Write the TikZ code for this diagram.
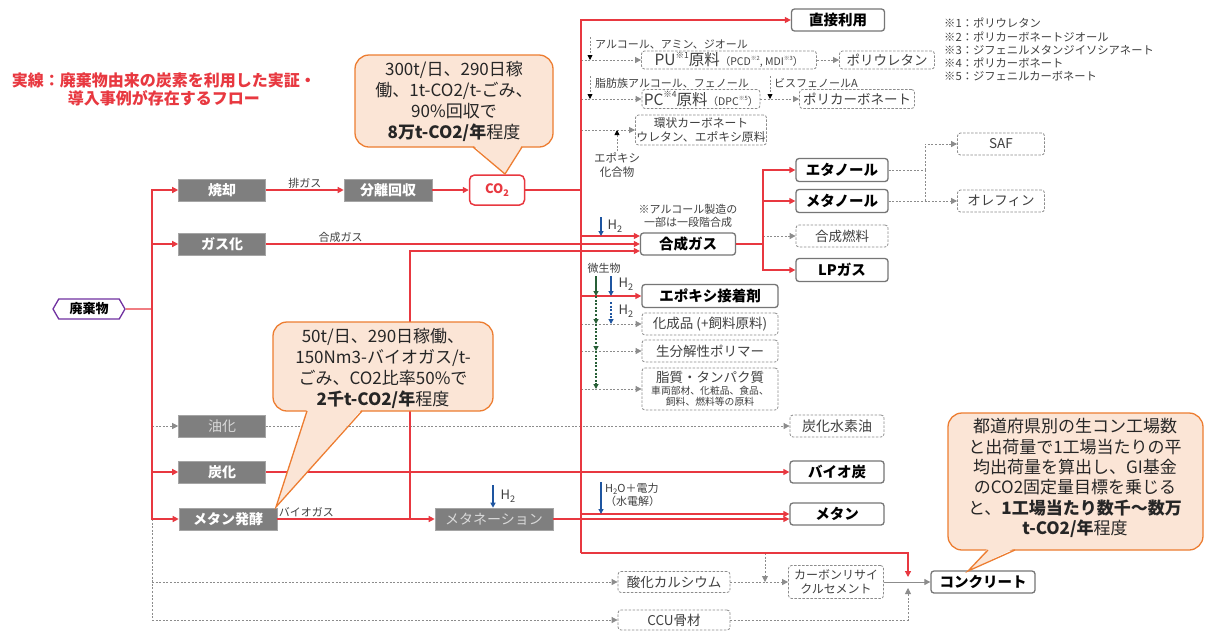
\documentclass[tikz,border=0pt]{standalone}
\usepackage{fontspec}
\setmainfont{Noto Sans CJK JP}
\usetikzlibrary{arrows.meta,shapes.symbols}
\definecolor{rl}{RGB}{232,56,64}
\definecolor{gbox}{RGB}{127,127,127}
\definecolor{dg}{RGB}{64,64,64}
\definecolor{lg}{RGB}{140,140,140}
\definecolor{bd}{RGB}{118,118,118}
\definecolor{orng}{RGB}{237,125,49}
\definecolor{peach}{RGB}{251,229,214}
\definecolor{purp}{RGB}{112,48,160}
\definecolor{blu}{RGB}{30,85,160}
\definecolor{grn}{RGB}{40,95,55}
\newcommand{\fs}[1]{\fontsize{#1}{#1}\selectfont}
\newcommand{\mysup}[1]{\raisebox{.85ex}{\scalebox{.55}{#1}}}
\newcommand{\mysub}[1]{\raisebox{-.35ex}{\scalebox{.7}{#1}}}
\tikzset{
  arw/.style={-{Triangle[length=6pt,width=6pt]}},
  redl/.style={draw=rl,line width=1.3pt},
  redar/.style={redl,arw},
  dsh/.style={draw=lg,line width=0.8pt,dash pattern=on 2pt off 1.6pt},
  dshar/.style={dsh,arw},
  gsolar/.style={draw=lg,line width=0.9pt,arw},
  blkar/.style={dsh,-{Triangle[length=5pt,width=5pt,color=black]}},
  bluar/.style={draw=blu,line width=1.2pt,-{Triangle[length=5pt,width=5pt]}},
  bluedar/.style={bluar,dash pattern=on 2pt off 1.6pt},
  grar/.style={draw=grn,line width=1.2pt,-{Triangle[length=5pt,width=5pt]}},
  grdar/.style={grar,dash pattern=on 2pt off 1.6pt},
  gbx/.style={fill=gbox,draw=gbox!70!white,line width=0.6pt,text=white,font=\fs{14}\bfseries,minimum height=22pt,inner sep=1pt},
  gbxl/.style={gbx,text=black!15,font=\fs{14}},
  sbx/.style={draw=bd,line width=1.3pt,rounded corners=3pt,fill=white,font=\fs{14.5}\bfseries,minimum height=22pt,inner sep=1pt},
  dbx/.style={draw=lg,line width=0.8pt,dash pattern=on 2.5pt off 1.5pt,rounded corners=3pt,fill=white,text=dg,font=\fs{13.5},minimum height=21pt,inner sep=1pt},
  lbl/.style={text=dg,font=\fs{11},inner sep=1pt},
  sig/.style={signal,signal to=east and west,signal pointer angle=120,draw=purp,line width=1.3pt,fill=white,font=\fs{13}\bfseries,minimum width=72pt,minimum height=20pt,inner sep=1pt},
  cot/.style={align=center,text=black!85,inner sep=0pt},
}
\begin{document}
\begin{tikzpicture}[x=1pt,y=-1pt]
\fill[white] (0,0) rectangle (1205,630);
\useasboundingbox (0,0) rectangle (1205,630);

% legend and footnotes
\node[align=center,text=rl,font=\fontsize{16}{18}\selectfont\bfseries] (legend) at (164,89) {実線：廃棄物由来の炭素を利用した実証・\\導入事例が存在するフロー};
\node[anchor=north west,align=left,text=dg,font=\fontsize{11.3}{13.3}\selectfont,inner sep=0pt] (fn) at (944,18) {※1：ポリウレタン\\※2：ポリカーボネートジオール\\※3：ジフェニルメタンジイソシアネート\\※4：ポリカーボネート\\※5：ジフェニルカーボネート};

% left column
\node[sig] (haiki) at (89,309) {廃棄物};
\node[gbx,minimum width=87pt] (shoukyaku) at (222,190) {焼却};
\node[gbx,minimum width=87pt] (gasuka) at (222,244) {ガス化};
\node[gbxl,minimum width=87pt] (yuka) at (222,426) {油化};
\node[gbx,minimum width=87pt] (tanka) at (222,472) {炭化};
\node[gbx,minimum width=98pt] (hakkou) at (228,519) {メタン発酵};
\node[gbx,minimum width=88pt] (bunri) at (388,190) {分離回収};
\node[draw=rl,line width=1.5pt,rounded corners=5pt,fill=white,text=rl,font=\fs{13}\bfseries,minimum width=55pt,minimum height=30pt,inner sep=1pt] (co2) at (497,190) {CO\mysub{2}};
\node[gbxl,minimum width=118pt] (metanation) at (494,519) {メタネーション};

% right part
\node[sbx,minimum width=93pt] (chokusetsu) at (838,20) {直接利用};
\node[dbx,minimum width=175pt,minimum height=18pt] (pu) at (729,60) {{\fs{15.5}PU\mysup{※1}原料}{\fs{10.5}（PCD\mysup{※2}, MDI\mysup{※3}）}};
\node[dbx,minimum width=95pt,minimum height=18pt] (pur) at (887,60) {ポリウレタン};
\node[dbx,minimum width=118pt,minimum height=19pt] (pc) at (701,99) {{\fs{15.5}PC\mysup{※4}原料}{\fs{10.5}（DPC\mysup{※5}）}};
\node[dbx,minimum width=115pt,minimum height=19pt] (pcb) at (857,99) {ポリカーボネート};
\node[dbx,minimum width=122pt,minimum height=30pt,align=center,font=\fontsize{11.8}{13.5}\selectfont] (kanjou) at (701,130) {環状カーボネート\\ウレタン、エポキシ原料};
\node[sbx,minimum width=95pt] (gg) at (688,244) {合成ガス};
\node[sbx,minimum width=92pt,minimum height=23pt] (etanol) at (842,170) {エタノール};
\node[sbx,minimum width=92pt,minimum height=23pt] (metanol) at (842,201) {メタノール};
\node[dbx,minimum width=92pt,minimum height=22pt] (gnen) at (842,236) {合成燃料};
\node[sbx,minimum width=92pt,minimum height=23pt] (lpg) at (842,270) {LPガス};
\node[dbx,minimum width=87pt,minimum height=22pt] (saf) at (1001,144) {SAF};
\node[dbx,minimum width=87pt,minimum height=22pt] (olefin) at (1001,201) {オレフィン};
\node[sbx,minimum width=136pt,minimum height=23pt] (epx) at (710,296) {エポキシ接着剤};
\node[dbx,minimum width=136pt,minimum height=22pt] (kasei) at (710,324) {化成品 (+飼料原料)};
\node[dbx,minimum width=136pt,minimum height=22pt] (seibun) at (710,351) {生分解性ポリマー};
\node[dbx,minimum width=136pt,minimum height=42pt,align=center,font=\fontsize{9.8}{11.5}\selectfont] (shishitsu) at (710,389) {{\fs{13.5}脂質・タンパク質}\\車両部材、化粧品、食品、\\飼料、燃料等の原料};
\node[dbx,minimum width=94pt,minimum height=22pt,font=\fs{14}] (tsuiso) at (837,426) {炭化水素油};
\node[sbx,minimum width=94pt] (biochar) at (837,472) {バイオ炭};
\node[sbx,minimum width=94pt] (metan) at (837,514) {メタン};
\node[dbx,minimum width=112pt,minimum height=21pt] (sanka) at (674,582) {酸化カルシウム};
\node[dbx,minimum width=95pt,minimum height=33pt,align=center,font=\fontsize{12}{14}\selectfont] (cement) at (836,582) {カーボンリサイ\\クルセメント};
\node[sbx,minimum width=104pt] (concrete) at (983,582) {コンクリート};
\node[dbx,minimum width=112pt,minimum height=20pt] (ccu) at (674,620) {CCU骨材};

% bus coordinates
\coordinate (L) at (152,309);
\coordinate (B) at (581,190);
\coordinate (Bb) at (581,553);
\coordinate (V) at (410,519);
\coordinate (S) at (763,244);
\coordinate (E) at (925,170);
\coordinate (K) at (908,582);
\coordinate (C) at (765,553);
\coordinate (g1) at ([yshift=8pt]gg.west);
\coordinate (g3) at ([yshift=-7pt]gg.west);
\coordinate (m2) at (metan.west |- metanation);

% gray dashed flows
\draw[dshar] (L |- yuka) -- (yuka);
\draw[dsh] (L |- hakkou) -- (L |- ccu);
\draw[dshar] (L |- sanka) -- (sanka);
\draw[dshar] (L |- ccu) -- (ccu);
\draw[dshar] (yuka) -- (tsuiso);
\draw[dshar] (B |- pu) -- (pu);
\draw[dshar] (pu) -- (pur);
\draw[dshar] (B |- pc) -- (pc);
\draw[dshar] (pc) -- (pcb);
\draw[dshar] (B |- kanjou) -- (kanjou);
\draw[dshar] (S |- gnen) -- (gnen);
\draw[dsh] (etanol) -- (E);
\draw[dshar] (E) |- (saf);
\draw[dsh] (E) -- (E |- metanol);
\draw[dshar] (metanol) -- (olefin);
\draw[dshar] (B |- kasei) -- (kasei);
\draw[dshar] (B |- seibun) -- (seibun);
\draw[dshar] (B |- shishitsu) -- (shishitsu);
\draw[dshar] (sanka) -- (cement);
\draw[dshar] (C) -- (C |- sanka);
\draw[gsolar] (cement) -- (concrete);
\draw[dshar] (ccu) -| ([yshift=-6pt]K);

% red flows
\draw[redl] (haiki) -- (L);
\draw[redar] (L) |- (shoukyaku);
\draw[redar] (L) |- (gasuka);
\draw[redar] (L) |- (tanka);
\draw[redar] (L) |- (hakkou);
\draw[redar] (shoukyaku) -- node[lbl,above]{排ガス} (bunri);
\draw[redar] (bunri) -- (co2);
\draw[redl] (co2) -- (B);
\draw[redar] (Bb) |- (chokusetsu);
\draw[redar] (B |- g1) -- (g1);
\draw[redar] (gasuka) -- node[lbl,above,pos=0.2]{合成ガス} (gg);
\draw[redar] (hakkou) -- node[lbl,above right,pos=0]{バイオガス} (metanation);
\draw[redar] (V) |- (g3);
\draw[redl] (gg) -- (S);
\draw[redar] (S) |- (etanol);
\draw[redar] (S) |- (metanol);
\draw[redar] (S) |- (lpg);
\draw[redar] (B |- epx) -- (epx);
\draw[redar] (tanka) -- (biochar);
\draw[redar] (B |- metan) -- (metan);
\draw[redar] (metanation) -- (m2);
\draw[redar] (Bb) -| ([yshift=5pt]K);

% side labels and small arrows
\node[lbl,anchor=west] (alc) at (594,44) {アルコール、アミン、ジオール};
\coordinate (a1) at (590,37);
\draw[blkar] (a1) -- (a1 |- pu);
\node[lbl,anchor=west] (fat) at (594,83) {脂肪族アルコール、フェノール};
\coordinate (a2) at (590,76);
\draw[blkar] (a2) -- (a2 |- pc);
\node[lbl,anchor=west] (bis) at (773,83) {ビスフェノールA};
\coordinate (a3) at (770,76);
\draw[blkar] (a3) -- (a3 |- pc);
\node[lbl,align=center,font=\fontsize{11.5}{14}\selectfont] (epc) at (617,165) {エポキシ\\化合物};
\draw[dsh,-{Triangle[length=5pt,width=5pt,color=black]}] (epc.north) -- (epc.north |- kanjou);
\node[lbl,align=center,font=\fontsize{11}{13}\selectfont] (note) at (688,216) {※アルコール製造の\\一部は一段階合成};
\coordinate (h1) at (601,217);
\draw[bluar] (h1) -- (h1 |- g1);
\node[lbl,font=\fs{13}] (h1l) at (615,226) {H\mysub{2}};
\node[lbl] (bio) at (604,268) {微生物};
\coordinate (gr) at (596,276);
\draw[grar] (gr) -- (gr |- epx);
\draw[grdar] (gr |- epx) -- (gr |- kasei);
\draw[grdar] (gr |- kasei) -- (gr |- seibun);
\draw[grdar] (gr |- seibun) -- (gr |- shishitsu);
\coordinate (bl) at (611,276);
\draw[bluar] (bl) -- (bl |- epx);
\node[lbl,font=\fs{13}] (h2b) at (626,284) {H\mysub{2}};
\coordinate (bl2) at (611,302);
\draw[bluedar] (bl2) -- (bl2 |- kasei);
\node[lbl,font=\fs{13}] (h2c) at (626,311) {H\mysub{2}};
\coordinate (h3) at (493,485);
\draw[bluar] (h3) -- (h3 |- metanation.north);
\node[lbl,font=\fs{13}] (h3l) at (508,496) {H\mysub{2}};
\coordinate (h4) at (601,482);
\draw[bluar] (h4) -- (h4 |- metan);
\node[lbl,anchor=west,align=left,font=\fontsize{11}{12.5}\selectfont] (h2o) at (604,495) {H\mysub{2}O＋電力\\（水電解）};

% callout 1
\fill[peach,draw=orng,line width=1.3pt,rounded corners=14pt] (355,55) rectangle (553,147);
\fill[peach] (473,145) -- (505,174) -- (522,145) -- cycle;
\draw[orng,line width=1.3pt] (473,147) -- (505,174) -- (522,147);
\node[cot,font=\fontsize{17}{21}\selectfont] (c1t) at (454,101) {300t/日、290日稼\\働、1t-CO2/t-ごみ、\\90\%回収で\\\textbf{8万t-CO2/年}程度};

% callout 2
\fill[peach,draw=orng,line width=1.3pt,rounded corners=14pt] (273,322) rectangle (493,411);
\fill[peach] (307,409) -- (276,507) -- (362,409) -- cycle;
\draw[orng,line width=1.3pt] (307,411) -- (276,507) -- (362,411);
\node[cot,font=\fontsize{17}{21}\selectfont] (c2t) at (383,368) {50t/日、290日稼働、\\150Nm3-バイオガス/t-\\ごみ、CO2比率50\%で\\\textbf{2千t-CO2/年}程度};

% callout 3
\fill[peach,draw=orng,line width=1.3pt,rounded corners=14pt] (948,413) rectangle (1203,550);
\fill[peach] (988,548) -- (968,571) -- (1015,548) -- cycle;
\draw[orng,line width=1.3pt] (988,550) -- (968,571) -- (1015,550);
\node[cot,font=\fontsize{17}{20.3}\selectfont] (c3t) at (1075,478) {都道府県別の生コン工場数\\と出荷量で1工場当たりの平\\均出荷量を算出し、GI基金\\のCO2固定量目標を乗じる\\と、\textbf{1工場当たり数千～数万}\\\textbf{t-CO2/年}程度};
\end{tikzpicture}
\end{document}
